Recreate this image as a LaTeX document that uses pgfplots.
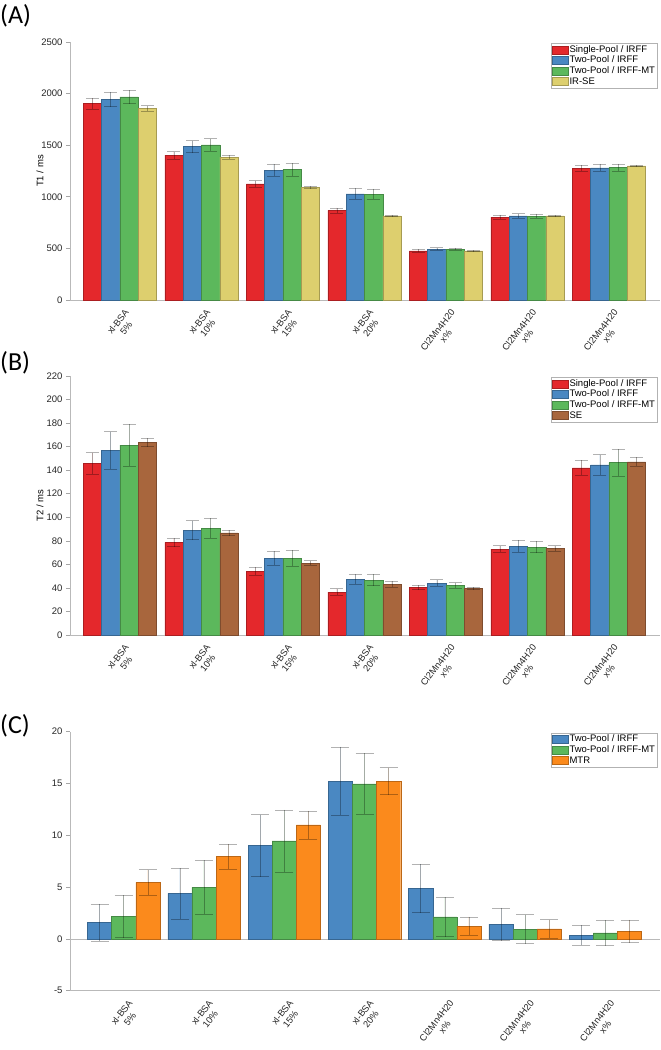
\documentclass[border=0pt]{standalone}
\usepackage{fontspec}
\setmainfont{Liberation Sans}
\newfontfamily\panelfont{Carlito}
\usepackage{pgfplots}
\usepackage{pgfplotstable}
\pgfplotsset{compat=1.18}

\definecolor{mred}{HTML}{E4282C}
\definecolor{mblue}{HTML}{4A88C2}
\definecolor{mgreen}{HTML}{5CB85C}
\definecolor{myellow}{HTML}{DDCF6E}
\definecolor{mbrown}{HTML}{A8663D}
\definecolor{morange}{HTML}{FB8A1C}

\pgfplotstableread{
x r re b be g ge y ye
0 1903 52 1945 72 1968 65 1858 25
1 1403 35 1487 58 1503 60 1384 17
2 1126 30 1258 60 1265 62 1090 12
3 868 25 1029 52 1026 51 816 8
4 477 13 494 12 494 10 477 5
5 803 22 816 20 813 22 816 5
6 1277 30 1281 33 1284 35 1300 8
}\tabA

\pgfplotstableread{
x r re b be g ge y ye
0 145.9 9 156.7 16 161.2 18 163.5 3.5
1 78.6 3.5 89.1 8 90.5 8.5 86.8 2.3
2 54 3.4 65.3 5.7 65.3 6.8 61.1 2
3 36.5 2.8 47.2 4.3 46.7 4.8 43 2.5
4 40.4 2 44.1 2.8 42.1 2.3 39.6 1.1
5 73 2.8 75.5 5 74.7 4.8 73.5 2.3
6 142 6.5 144.5 8.8 146.5 11.3 147.1 3.7
}\tabB

\pgfplotstableread{
x b be g ge o oe
0 1.58 1.8 2.16 2.03 5.45 1.23
1 4.39 2.45 4.97 2.6 7.94 1.2
2 9.0 3.0 9.45 3.0 11.0 1.35
3 15.23 3.3 14.97 2.95 15.23 1.3
4 4.87 2.35 2.13 1.9 1.23 0.9
5 1.42 1.58 0.94 1.4 0.97 0.9
6 0.35 0.95 0.58 1.22 0.74 1.1
}\tabC

\pgfplotsset{
  base/.style={
    scale only axis, width=590pt,
    axis lines=left,
    axis line style={-, gray!55, line width=0.6pt},
    xtick={0,...,6},
    xticklabels={{xl-BSA\\5\%},{xl-BSA\\10\%},{xl-BSA\\15\%},{xl-BSA\\20\%},{Cl2Mn4H20\\x\%},{Cl2Mn4H20\\x\%},{Cl2Mn4H20\\x\%}},
    x tick label style={font=\fontsize{9.3}{10.5}\selectfont, align=center, xshift=13pt, yshift=-7pt, rotate=52, anchor=east, text=black!85},
    major x tick style={draw=none},
    ytick style={gray!70, line width=0.6pt},
    tick align=outside, major tick length=4pt,
    y tick label style={font=\fontsize{9.5}{10}\selectfont, text=black!85},
    /pgf/number format/assume math mode=true,
    /pgf/number format/1000 sep={},
    ybar=0pt,
    ylabel style={at={(axis description cs:-0.051,0.5)}, anchor=center, font=\fontsize{9.5}{10}\selectfont},
    legend style={at={(0.995,0.995)}, anchor=north east, draw=gray!60, fill=white,
      font=\fontsize{9.5}{10}\selectfont, inner sep=1pt, row sep=0pt,
      nodes={inner sep=0.8pt, text height=7pt, text depth=2pt}},
    legend cell align=left,
    legend image code/.code={\draw[#1, line width=0.4pt] (0pt,-4pt) rectangle (16pt,4pt);},
    clip=false,
  },
  eb/.style={error bars/.cd, y dir=both, y explicit,
    error bar style={line width=0.6pt, draw=black, draw opacity=0.3},
    error mark options={rotate=90, line width=0.6pt, draw=black, draw opacity=0.3, mark size=#1}},
}

\begin{document}
\begin{tikzpicture}[x=1pt,y=1pt]
\useasboundingbox (0,0) rectangle (661,1050);

\node[anchor=north west, inner sep=0pt, font=\panelfont\fontsize{26}{26}\selectfont] at (0,1046) {(A)};
\node[anchor=north west, inner sep=0pt, font=\panelfont\fontsize{26}{26}\selectfont] at (0,699) {(B)};
\node[anchor=north west, inner sep=0pt, font=\panelfont\fontsize{26}{26}\selectfont] at (0,336) {(C)};

% Panel A
\begin{axis}[base, at={(70pt,750pt)}, anchor=south west, height=258pt,
  xmin=-0.613, xmax=6.626, ymin=0, ymax=2500, ytick={0,500,...,2500},
  bar width=18.33pt, ylabel={T1 / ms}]
\addplot[fill=mred, draw=mred!75!black, eb=6.5pt] table[x=x, y=r, y error=re]{\tabA};
\addplot[fill=mblue, draw=mblue!75!black, eb=6.5pt] table[x=x, y=b, y error=be]{\tabA};
\addplot[fill=mgreen, draw=mgreen!75!black, eb=6.5pt] table[x=x, y=g, y error=ge]{\tabA};
\addplot[fill=myellow, draw=myellow!75!black, eb=6.5pt] table[x=x, y=y, y error=ye]{\tabA};
\legend{Single-Pool / IRFF, Two-Pool / IRFF, Two-Pool / IRFF-MT, IR-SE}
\end{axis}

% Panel B
\begin{axis}[base, at={(70pt,415pt)}, anchor=south west, height=259pt,
  xmin=-0.613, xmax=6.626, ymin=0, ymax=220, ytick={0,20,...,220},
  bar width=18.33pt, ylabel={T2 / ms}]
\addplot[fill=mred, draw=mred!75!black, eb=6.5pt] table[x=x, y=r, y error=re]{\tabB};
\addplot[fill=mblue, draw=mblue!75!black, eb=6.5pt] table[x=x, y=b, y error=be]{\tabB};
\addplot[fill=mgreen, draw=mgreen!75!black, eb=6.5pt] table[x=x, y=g, y error=ge]{\tabB};
\addplot[fill=mbrown, draw=mbrown!75!black, eb=6.5pt] table[x=x, y=y, y error=ye]{\tabB};
\legend{Single-Pool / IRFF, Two-Pool / IRFF, Two-Pool / IRFF-MT, SE}
\end{axis}

% Panel C
\begin{axis}[base, at={(70pt,59.3pt)}, anchor=south west, height=259pt,
  xmin=-0.669, xmax=6.68, ymin=-5, ymax=20, ytick={-5,0,...,20},
  extra y ticks={0}, extra y tick labels={},
  extra y tick style={grid=major, major grid style={gray!55, line width=0.6pt}, major tick length=0pt},
  bar width=24.1pt]
\addplot[fill=mblue, draw=mblue!75!black, eb=9pt] table[x=x, y=b, y error=be]{\tabC};
\addplot[fill=mgreen, draw=mgreen!75!black, eb=9pt] table[x=x, y=g, y error=ge]{\tabC};
\addplot[fill=morange, draw=morange!75!black, eb=9pt] table[x=x, y=o, y error=oe]{\tabC};
\legend{Two-Pool / IRFF, Two-Pool / IRFF-MT, MTR}
\end{axis}
\end{tikzpicture}
\end{document}
